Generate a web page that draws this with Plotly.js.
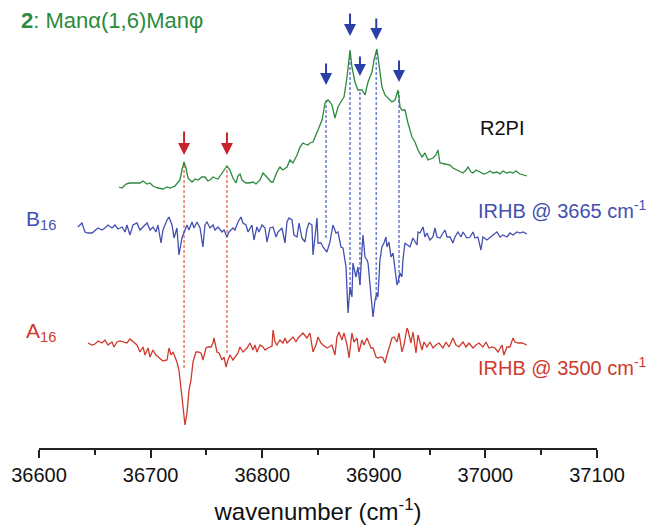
<!DOCTYPE html>
<html>
<head>
<meta charset="utf-8">
<script src="https://cdn.plot.ly/plotly-3.0.1.min.js"></script>
<style>
html,body{margin:0;padding:0;background:#fff;}
#chart{width:653px;height:525px;}
</style>
</head>
<body>
<div id="chart"></div>
<script>
// ---- Data (wavenumber in cm^-1, relative intensity per spectrum) ----
const greenWn = [36671.7,36674.4,36677.9,36681.5,36686.0,36690.5,36693.2,36696.8,36699.5,36702.1,
36706.6,36711.1,36714.7,36717.4,36721.9,36726.3,36728.1,36729.9,36731.7,36733.5,
36737.1,36739.8,36742.5,36746.0,36748.7,36751.4,36753.2,36755.9,36757.7,36760.4,
36762.2,36765.8,36768.4,36771.1,36773.8,36776.5,36778.3,36780.1,36781.9,36785.5,
36788.2,36791.7,36794.4,36798.0,36800.7,36803.4,36805.2,36807.9,36809.7,36813.2,
36815.9,36818.6,36822.2,36824.9,36827.6,36831.2,36833.9,36836.5,36838.3,36841.0,
36842.8,36845.5,36850.0,36853.6,36856.3,36858.9,36860.7,36862.5,36865.2,36867.9,
36871.5,36873.3,36876.0,36878.7,36880.4,36883.1,36885.8,36889.4,36892.1,36894.8,
36898.4,36900.2,36902.8,36904.6,36907.3,36910.0,36912.7,36916.3,36919.0,36921.7,
36923.5,36925.2,36927.9,36930.6,36934.2,36936.9,36939.6,36943.2,36945.9,36948.5,
36953.0,36955.7,36957.5,36959.3,36963.8,36968.3,36970.9,36974.5,36977.2,36979.9,
36982.6,36984.4,36987.1,36988.9,36991.6,36995.1,36998.7,37001.4,37004.1,37006.8,
37010.4,37013.1,37015.7,37019.3,37022.0,37024.7,37027.4,37031.0,37034.6,37037.2];
const greenI = [-2,-3,1,2,2,2,4,1,2,-1,
-3,-4,-2,-3,-1,5,15,23,17,7,
3,6,5,8,8,4,5,8,7,6,
9,15,19,15,7,2,9,11,5,2,
2,3,1,5,12,9,7,3,3,13,
18,15,18,25,22,30,38,42,41,40,
42,43,55,65,82,85,83,80,67,78,
85,88,108,135,118,103,95,95,90,103,
113,125,136,120,98,90,87,83,85,95,
78,75,75,62,48,43,35,28,32,25,
27,30,35,22,21,20,17,15,13,12,
15,18,13,12,15,13,11,12,14,12,
13,11,14,12,13,12,14,11,10,9];

const blueWn = [36634.9,36638.5,36641.2,36643.9,36647.5,36650.2,36652.9,36656.4,36659.1,36661.8,
36665.4,36668.1,36670.8,36674.4,36677.1,36678.8,36681.5,36684.2,36687.8,36690.5,
36693.2,36696.8,36699.5,36702.1,36704.8,36706.6,36709.3,36711.1,36714.7,36716.5,
36719.2,36721.0,36723.6,36725.4,36728.1,36729.9,36732.6,36734.4,36737.1,36738.9,
36741.6,36744.3,36746.9,36748.7,36750.5,36753.2,36755.9,36757.7,36760.4,36764.0,
36765.8,36768.4,36770.2,36773.8,36775.6,36778.3,36781.0,36782.8,36785.5,36787.3,
36790.8,36792.6,36795.3,36797.1,36799.8,36802.5,36804.3,36807.0,36809.7,36812.4,
36814.1,36817.7,36820.4,36822.2,36824.0,36826.7,36828.5,36831.2,36833.0,36835.6,
36838.3,36840.1,36841.9,36844.6,36845.5,36847.3,36849.1,36850.0,36852.7,36854.5,
36858.0,36860.7,36863.4,36866.1,36867.9,36870.6,36872.4,36875.1,36876.9,36878.7,
36880.4,36881.3,36884.0,36885.8,36887.6,36889.4,36890.3,36892.1,36893.9,36894.8,
36896.6,36898.4,36899.3,36901.1,36902.8,36903.7,36905.5,36907.3,36909.1,36910.9,
36911.8,36913.6,36915.4,36917.2,36919.0,36920.8,36921.7,36923.5,36925.2,36926.1,
36927.9,36929.7,36932.4,36935.1,36938.7,36939.6,36941.4,36944.1,36945.9,36947.6,
36950.3,36953.0,36954.8,36956.6,36959.3,36962.0,36963.8,36965.6,36968.3,36970.9,
36972.7,36975.4,36978.1,36979.9,36983.5,36986.2,36988.9,36990.7,36993.3,36996.0,
36997.8,37001.4,37004.1,37006.8,37010.4,37013.1,37015.7,37019.3,37022.0,37024.7,
37028.3,37031.0,37033.7,37037.2];
const blueI = [3,7,-2,-3,-3,0,2,0,2,5,
2,5,1,3,-2,5,-5,5,7,0,
3,7,0,3,-2,5,-13,0,10,13,
5,-8,2,-25,-8,-2,5,0,8,2,
8,2,-17,5,8,2,5,0,3,-2,
0,-7,-2,2,0,8,13,7,5,-2,
5,-10,3,-2,5,2,-12,2,3,-7,
-2,2,-13,8,12,10,-5,-7,7,-8,
-12,1,7,5,-25,-7,12,-13,-13,-17,
-22,-12,5,-3,-2,-17,-18,-37,-83,-57,
-67,-33,-47,-37,-55,-20,-5,-27,-30,-33,
-57,-80,-87,-70,-63,-67,-30,-17,-13,-7,
-17,-12,-27,-23,-37,-55,-52,-43,-47,-30,
-13,-15,-17,-8,-15,-2,-3,3,-7,-3,
-10,-7,2,-7,-8,-3,0,-7,-7,-13,
-7,-2,-7,-2,-8,-7,-2,-8,-7,-20,
-7,-10,-7,-5,-2,-7,-5,-7,-3,-5,
-2,-3,-2,-4];

const redWn = [36643.9,36647.5,36650.2,36652.9,36656.4,36659.1,36661.8,36665.4,36667.2,36669.9,
36672.6,36675.3,36678.8,36681.5,36684.2,36687.8,36690.5,36693.2,36695.0,36697.7,
36699.5,36702.1,36704.8,36708.4,36711.1,36714.7,36716.5,36718.3,36720.1,36723.6,
36725.4,36728.1,36729.9,36730.8,36732.6,36734.4,36736.2,36738.0,36740.7,36742.5,
36745.2,36746.9,36749.6,36751.4,36754.1,36755.9,36756.8,36759.5,36761.3,36764.0,
36765.8,36767.6,36769.3,36771.1,36773.8,36775.6,36778.3,36780.1,36782.8,36786.4,
36789.1,36791.7,36793.5,36795.3,36798.0,36800.7,36802.5,36805.2,36808.8,36809.7,
36811.5,36813.2,36815.9,36818.6,36820.4,36822.2,36824.9,36827.6,36830.3,36832.1,
36834.8,36836.5,36840.1,36842.8,36845.5,36848.2,36850.0,36852.7,36854.5,36858.0,
36859.8,36862.5,36865.2,36867.0,36868.8,36871.5,36873.3,36876.0,36877.8,36880.4,
36882.2,36884.9,36886.7,36889.4,36891.2,36893.9,36895.7,36897.5,36899.3,36902.0,
36903.7,36906.4,36908.2,36910.0,36911.8,36913.6,36916.3,36918.1,36920.8,36922.6,
36925.2,36927.0,36929.7,36930.6,36933.3,36935.1,36937.8,36939.6,36943.2,36945.0,
36947.6,36950.3,36953.0,36955.7,36958.4,36962.0,36964.7,36967.4,36970.9,36973.6,
36976.3,36979.9,36982.6,36985.3,36988.9,36991.6,36994.2,36997.8,37000.5,37003.2,
37005.9,37008.6,37011.3,37014.8,37016.6,37019.3,37022.0,37024.7,37026.5,37029.2,
37032.8,37037.2];
const redI = [2,0,1,4,2,5,0,3,-2,3,
4,3,2,6,3,0,-7,-2,-10,-3,
-12,-5,-10,-13,-16,-15,-3,-10,-7,-17,
-25,-52,-72,-80,-68,-45,-35,-17,-7,-7,
-8,-15,-3,-2,-2,2,7,-7,-8,-15,
-12,-22,-15,-10,-15,-12,-8,-2,-7,-3,
2,-5,0,-7,0,-2,-5,-3,-1,15,
3,0,5,2,7,2,5,8,3,7,
10,12,7,12,-7,0,8,2,0,-3,
-2,0,-10,8,13,5,12,0,-13,12,
3,7,-7,5,0,7,2,-3,-3,-12,
-13,-12,-13,-18,-10,-2,7,8,3,12,
-7,0,17,15,2,13,-8,10,-5,3,
-2,3,-3,0,2,-3,3,-2,7,0,
-2,3,-2,2,-3,0,2,-2,3,-3,
-2,-3,-7,0,-10,-2,-2,7,3,2,
2,0];

const tickVals = [36600,36700,36800,36900,37000,37100];
const tickLabels = ['36600','36700','36800','36900','37000','37100'];
const minorVals = [36650,36750,36850,36950,37050];

// marked bands
const redMarks = [36730, 36768.4];
const blueMarks = [36857.2, 36878.7, 36887.6, 36902.2, 36922.6];

// ---- Layout of the stacked spectra ----
const greenBase = 263, blueBase = 218, redBase = 103;
const GREEN = '#2b8a3e', BLUE = '#4450b0', RED = '#cf3a2e';
const FONT = 'Liberation Sans, Arial, sans-serif';

const shift = (arr, b) => arr.map(v => v + b);

const traces = [
  {x: greenWn, y: shift(greenI, greenBase), mode: 'lines', line: {color: GREEN, width: 1.3}, hoverinfo: 'skip'},
  {x: blueWn, y: shift(blueI, blueBase), mode: 'lines', line: {color: BLUE, width: 1.3}, hoverinfo: 'skip'},
  {x: redWn, y: shift(redI, redBase), mode: 'lines', line: {color: RED, width: 1.3}, hoverinfo: 'skip'}
];

// dashed guide lines (top on R2PI trace, bottom on IRHB trace)
const redLineEnds = [[286, 80], [282, 95]];
const blueLineEnds = [[348, 210], [396, 153], [358, 163], [398, 148], [356, 165]];
const shapes = [];
redMarks.forEach((m, i) => shapes.push({type: 'line', xref: 'x', yref: 'y', x0: m, x1: m,
  y0: redLineEnds[i][1], y1: redLineEnds[i][0], line: {color: '#e8826c', width: 1.6, dash: '3px,2px'}, layer: 'below'}));
blueMarks.forEach((m, i) => shapes.push({type: 'line', xref: 'x', yref: 'y', x0: m, x1: m,
  y0: blueLineEnds[i][1], y1: blueLineEnds[i][0], line: {color: '#7484d6', width: 1.6, dash: '3px,2px'}, layer: 'below'}));

// arrows: [tail, tip]
const redArrows = [[318, 293], [317, 293]];
const blueArrows = [[386, 363], [436, 412], [393, 372], [431, 408], [389, 366]];
const annotations = [];
redMarks.forEach((m, i) => annotations.push({x: m, y: redArrows[i][1], ax: m, ay: redArrows[i][0],
  xref: 'x', yref: 'y', axref: 'x', ayref: 'y', text: '', showarrow: true,
  arrowhead: 2, arrowsize: 1.2, arrowwidth: 2, arrowcolor: '#c8232b', standoff: 0}));
blueMarks.forEach((m, i) => annotations.push({x: m, y: blueArrows[i][1], ax: m, ay: blueArrows[i][0],
  xref: 'x', yref: 'y', axref: 'x', ayref: 'y', text: '', showarrow: true,
  arrowhead: 2, arrowsize: 1.2, arrowwidth: 2, arrowcolor: '#2b3fa8', standoff: 0}));

const txt = (text, x, y, color, size) => ({text, x, y, xref: 'paper', yref: 'paper',
  xanchor: 'left', yanchor: 'middle', showarrow: false, font: {family: FONT, size, color}});
annotations.push(txt('<b>2</b>: Manα(1,6)Manφ', -0.036, 0.955, GREEN, 22));
annotations.push(txt('R2PI', 0.787, 0.714, '#111111', 20));
annotations.push(txt('B<sub>16</sub>', -0.027, 0.508, BLUE, 21));
annotations.push(txt('IRHB @ 3665 cm<sup>-1</sup>', 0.783, 0.533, BLUE, 20));
annotations.push(txt('A<sub>16</sub>', -0.027, 0.258, RED, 21));
annotations.push(txt('IRHB @ 3500 cm<sup>-1</sup>', 0.783, 0.183, RED, 20));

const layout = {
  width: 653, height: 525,
  margin: {l: 39, r: 56, t: 0, b: 77},
  paper_bgcolor: '#ffffff', plot_bgcolor: '#ffffff',
  showlegend: false,
  font: {family: FONT, color: '#111111'},
  xaxis: {
    range: [36600, 37100], tickmode: 'array', tickvals: tickVals, ticktext: tickLabels,
    ticks: 'outside', ticklen: 8, tickwidth: 2, tickcolor: '#222',
    showline: true, linewidth: 2, linecolor: '#222', showgrid: false, zeroline: false,
    tickfont: {family: FONT, size: 20, color: '#111'},
    minor: {tickmode: 'array', tickvals: minorVals, ticks: 'outside', ticklen: 5, tickwidth: 2, tickcolor: '#222', showgrid: false},
    title: {text: 'wavenumber (cm<sup>-1</sup>)', font: {family: FONT, size: 24, color: '#111'}, standoff: 18},
    automargin: false, fixedrange: true
  },
  yaxis: {range: [0, 448], visible: false, fixedrange: true},
  shapes, annotations
};

Plotly.newPlot('chart', traces, layout, {displayModeBar: false, staticPlot: true});
</script>
</body>
</html>
